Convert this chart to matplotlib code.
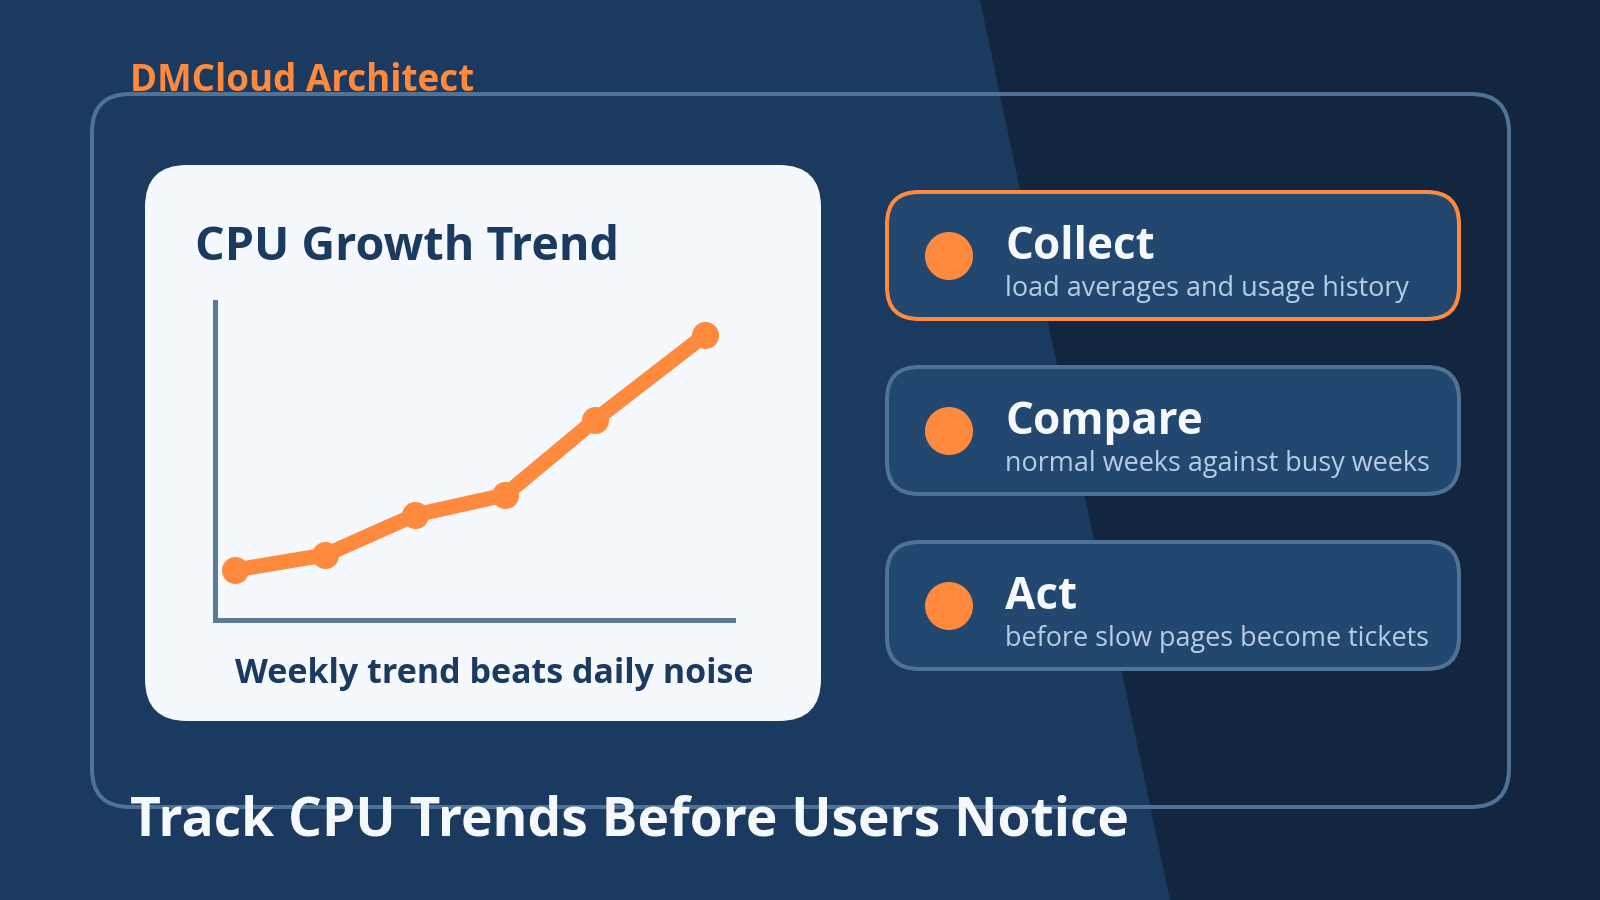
import matplotlib
matplotlib.use('Agg')
import matplotlib.pyplot as plt
from matplotlib.patches import FancyBboxPatch, Polygon, Circle

plt.rcParams['font.family'] = ['Open Sans', 'DejaVu Sans']

# chart data (x = days along the axis, y = cpu level, both)
trend_x = [20, 110, 200, 290, 380, 490]
trend_y = [50, 65, 105, 125, 200, 285]

step_titles = ['Collect', 'Compare', 'Act']
step_notes = ['load averages and usage history',
              'normal weeks against busy weeks',
              'before slow pages become tickets']

# colours
BG = '#1b3a5f'
DARK = '#13263f'
FRAME = '#4f7296'
PANEL = '#f5f8fc'
CARD = '#234870'
ORANGE = '#ff8a3d'
NOTE = '#b5cde6'
AXIS = '#5d7a99'
WHITE = '#f5f8fc'

W, H = 1600, 900
fig = plt.figure(figsize=(W / 100, H / 100), dpi=100, facecolor=BG)

# background layer in pixel coordinates
bg = fig.add_axes([0, 0, 1, 1])
bg.set_xlim(0, W)
bg.set_ylim(H, 0)
bg.axis('off')


def px(size):
    return size * 0.72


def round_box(x, y, w, h, r, fc, ec, lw, z=2):
    box = FancyBboxPatch((x, y), w, h, boxstyle=f'round,pad=0,rounding_size={r}',
                         facecolor=fc, edgecolor=ec, linewidth=lw, zorder=z)
    bg.add_patch(box)


bg.add_patch(Polygon([(980, 0), (W, 0), (W, H), (1170, H)], closed=True,
                     facecolor=DARK, edgecolor='none', zorder=1))

# bezier corners look tighter than the arcs in the reference, so radii are a bit larger
round_box(92, 94, 1417, 713, 38, 'none', FRAME, px(4))
round_box(145, 165, 676, 556, 42, PANEL, 'none', 0)

bg.text(130, 91, 'DMCloud Architect', color=ORANGE, fontsize=px(36.8),
        fontweight='bold', va='baseline', zorder=5)
bg.text(130, 836, 'Track CPU Trends Before Users Notice', color=WHITE, fontsize=px(53.4),
        fontweight='bold', va='baseline', zorder=5)
bg.text(195, 260, 'CPU Growth Trend', color=BG, fontsize=px(46.6),
        fontweight='bold', va='baseline', zorder=5)
bg.text(235, 683, 'Weekly trend beats daily noise', color=BG, fontsize=px(34),
        fontweight='bold', va='baseline', zorder=5)

# the three step cards
for i in range(3):
    top = 192 + i * 175
    edge = ORANGE if i == 0 else FRAME
    round_box(887, top, 572, 127, 32, CARD, edge, px(4))
    bg.add_patch(Circle((949, top + 64), 24, facecolor=ORANGE, edgecolor='none', zorder=3))
    bg.text(1005, top + 67, step_titles[i], color=WHITE, fontsize=px(44),
            fontweight='bold', va='baseline', zorder=5)
    bg.text(1005, top + 104, step_notes[i], color=NOTE, fontsize=px(27),
            va='baseline', zorder=5)

# the line chart itself
ax = fig.add_axes([215 / W, 1 - 620 / H, 518 / W, 318 / H], facecolor='none')
ax.set_xlim(0, 518)
ax.set_ylim(0, 318)
ax.plot(trend_x, trend_y, color=ORANGE, linewidth=px(15), marker='o',
        markersize=px(27), markeredgewidth=0, solid_capstyle='round', clip_on=False)
ax.set_xticks([])
ax.set_yticks([])
for side in ['top', 'right']:
    ax.spines[side].set_visible(False)
for side in ['left', 'bottom']:
    ax.spines[side].set_color(AXIS)
    ax.spines[side].set_linewidth(px(5))

fig.savefig('out.png', dpi=100, facecolor=BG)
